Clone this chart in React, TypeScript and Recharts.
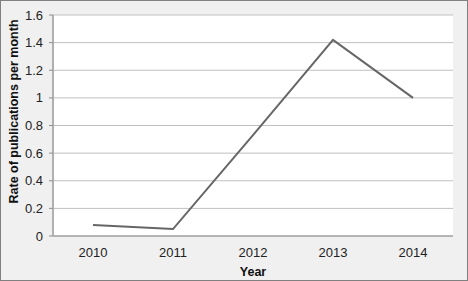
import { LineChart, Line, XAxis, YAxis, CartesianGrid, Label } from "recharts";

const years = ["2010", "2011", "2012", "2013", "2014"];
const rates = [0.08, 0.05, 0.73, 1.42, 1.0];
const yTicks = [0, 0.2, 0.4, 0.6, 0.8, 1, 1.2, 1.4, 1.6];

const data = years.map((year, i) => ({ year, rate: rates[i] }));

const font = '"Liberation Sans", Arial, Helvetica, sans-serif';

export default function App() {
  return (
    <div style={{ position: "relative", width: 468, height: 281, background: "#f0f0f0", fontFamily: font }}>
      <style>{"body{margin:0}"}</style>
      <LineChart
        width={468}
        height={281}
        data={data}
        margin={{ top: 15, right: 15, bottom: 0, left: 0 }}
      >
        <CartesianGrid vertical={false} stroke="#c0c0c0" fill="#ffffff" />
        <XAxis
          dataKey="year"
          height={45}
          padding={{ left: 40, right: 40 }}
          tickLine={false}
          tickMargin={6}
          axisLine={{ stroke: "#8c8c8c" }}
          tick={{ fontSize: 13, fill: "#222", fontFamily: font }}
        >
          <Label
            value="Year"
            position="insideBottom"
            offset={5}
            style={{ fontSize: 12.5, fontWeight: "bold", fill: "#111", fontFamily: font }}
          />
        </XAxis>
        <YAxis
          width={53}
          domain={[0, 1.6]}
          ticks={yTicks}
          interval={0}
          tickSize={4}
          tickMargin={6}
          axisLine={{ stroke: "#b0b0b0", strokeWidth: 2 }}
          tickLine={{ stroke: "#8c8c8c" }}
          tick={{ fontSize: 13, fill: "#222", fontFamily: font }}
        >
          <Label
            content={(props: any) => {
              const vb = props.viewBox || {};
              const cx = (vb.x ?? 0) + 13.5;
              const cy = (vb.y ?? 0) + (vb.height ?? 0) / 2 - 14;
              return (
                <text
                  x={cx}
                  y={cy}
                  transform={`rotate(-90 ${cx} ${cy})`}
                  textAnchor="middle"
                  dominantBaseline="central"
                  style={{ fontSize: 12.5, fontWeight: "bold", fill: "#111", fontFamily: font }}
                >
                  Rate of publications per month
                </text>
              );
            }}
          />
        </YAxis>
        <Line
          dataKey="rate"
          type="linear"
          stroke="#666666"
          strokeWidth={2}
          dot={false}
          activeDot={false}
          isAnimationActive={false}
        />
      </LineChart>
      <div
        style={{
          position: "absolute",
          left: 0,
          top: 0,
          width: 468,
          height: 281,
          boxSizing: "border-box",
          border: "1px solid #808080",
          pointerEvents: "none",
        }}
      />
    </div>
  );
}
